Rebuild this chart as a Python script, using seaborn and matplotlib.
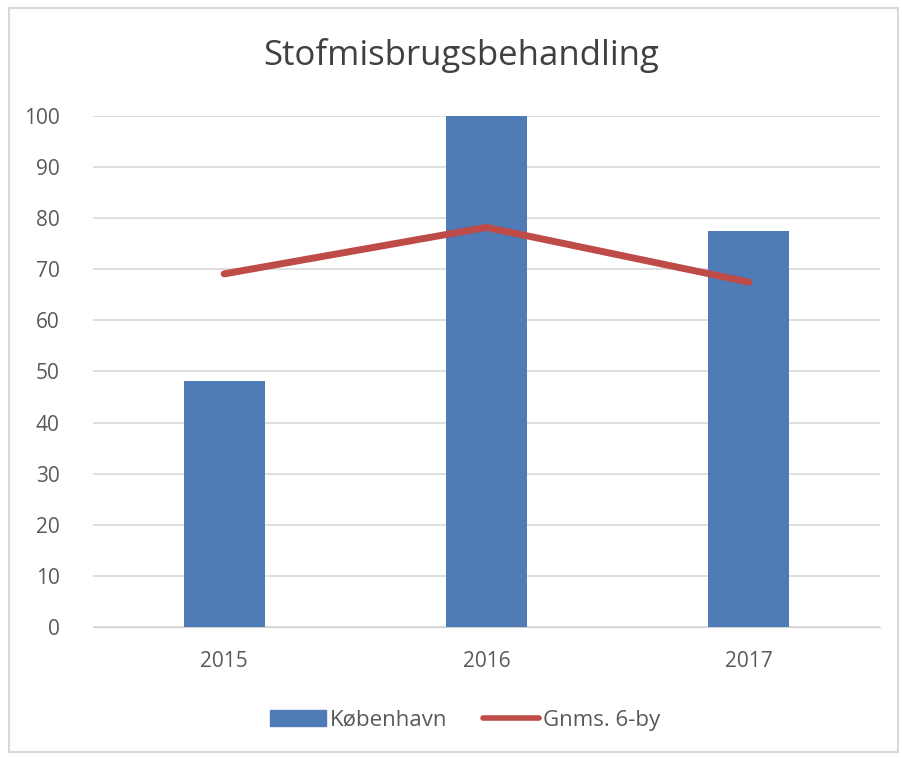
import matplotlib
matplotlib.use('Agg')
import matplotlib.pyplot as plt
import matplotlib.patches as mpatches
import numpy as np
import pandas as pd
import seaborn as sns

years = ['2015', '2016', '2017']
kbh = [48.2, 100.0, 77.5]
gnms = [69.1, 78.2, 67.5]

df = pd.DataFrame({'year': years, 'kbh': kbh, 'gnms': gnms})

sns.set_style('white')
plt.rcParams['font.family'] = ['Open Sans', 'DejaVu Sans']

fig = plt.figure(figsize=(9.03, 7.58), dpi=100)
ax = fig.add_axes([0.103, 0.1728, 0.8715, 0.6742])

sns.barplot(data=df, x='year', y='kbh', color='#4f7cb6', width=0.31,
            saturation=1, ax=ax, label='København', zorder=3, linewidth=0)
sns.lineplot(x=np.arange(len(years)), y=df['gnms'], color='#be4b48',
             linewidth=5, solid_capstyle='round', ax=ax,
             label='Gnms. 6-by', zorder=4)

ax.set_ylim(0, 100)
ax.set_xlim(-0.5, 2.5)
ax.set_yticks(range(0, 101, 10))
ax.grid(axis='y', color='#d9d9d9', linewidth=1.2, zorder=0)
ax.set_axisbelow(True)
for s in ['top', 'right', 'left']:
    ax.spines[s].set_visible(False)
ax.spines['bottom'].set_color('#d0d0d0')
ax.tick_params(axis='both', length=0, labelsize=15, labelcolor='#595959')
ax.tick_params(axis='x', pad=17)
ax.tick_params(axis='y', pad=24)
ax.set_xlabel('')
ax.set_ylabel('')

fig.text(0.511, 0.927, 'Stofmisbrugsbehandling', ha='center', va='center',
         fontsize=25, color='#404040')

handles = [mpatches.Patch(color='#4f7cb6'),
           plt.Line2D([], [], color='#be4b48', linewidth=4, solid_capstyle='round')]
ax.legend().remove()
fig.legend(handles, ['København', 'Gnms. 6-by'], loc='center',
           bbox_to_anchor=(0.515, 0.05), ncol=2, frameon=False, fontsize=16,
           labelcolor='#595959', handlelength=2.5, handletextpad=0.2,
           columnspacing=1.6)

fig.patches.append(mpatches.Rectangle((0.01, 0.008), 0.985, 0.982,
                                      transform=fig.transFigure, fill=False,
                                      edgecolor='#d9d9d9', linewidth=1.5))

plt.savefig('out.png', dpi=100)
